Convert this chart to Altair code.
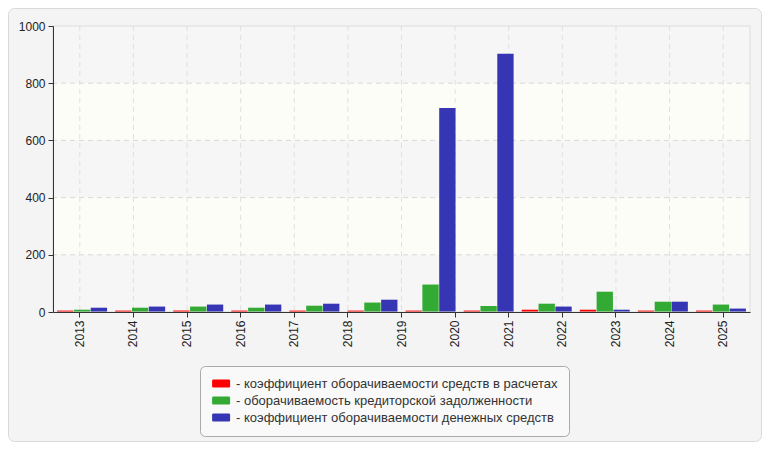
import altair as alt
import pandas as pd

# ---- data ----
years = [str(y) for y in range(2013, 2026)]          # axis tick labels
series = [
    "коэффициент оборачиваемости средств в расчетах",
    "оборачиваемость кредиторской задолженности",
    "коэффициент оборачиваемости денежных средств",
]
periods = list(range(1, 13))                           # 12 bar groups
red_vals = [5, 5, 5, 5, 5, 5, 5, 5, 8, 8, 5, 5]
green_vals = [8, 15, 19, 15, 22, 33, 96, 21, 29, 71, 36, 26]
blue_vals = [15, 19, 26, 26, 29, 43, 713, 903, 19, 8, 36, 12]
y_ticks = [0, 200, 400, 600, 800, 1000]
grid_y = [200, 400, 600, 800]
hatch_from = [0, 400, 800]
colors = ["#ff0000", "#33aa33", "#3636b4"]

W, H = 697, 286
PL, PT, PR, PB = 45, 18, 12, 130
FONT = "Liberation Sans"

rows = []
for i, p in enumerate(periods):
    for s, vals in zip(series, [red_vals, green_vals, blue_vals]):
        rows.append({"period": p, "series": s, "value": vals[i]})
bars_df = pd.DataFrame(rows)
one = pd.DataFrame({"a": [0]})

yscale = alt.Scale(domain=[0, 1000], nice=False, zero=True)
yaxis = alt.Axis(values=y_ticks, format="d", grid=False, title=None,
                 labelFont=FONT, labelFontSize=12, labelColor="#222",
                 domainColor="#333", tickColor="#333", tickSize=5,
                 labelPadding=3, zindex=1)

frame_bg = alt.Chart(one).mark_rect(
    fill="#f4f4f4", stroke="#d9d9d9", strokeWidth=1, cornerRadius=6
).encode(x=alt.value(-PL + 0.5), x2=alt.value(W + PR - 0.5),
         y=alt.value(-PT + 0.5), y2=alt.value(H + PB - 0.5))

plot_bg = alt.Chart(one).mark_rect(fill="#fdfdf7").encode(
    x=alt.value(0), x2=alt.value(W), y=alt.value(0), y2=alt.value(H))

hatch = alt.Chart(pd.DataFrame({"lo": hatch_from})).transform_calculate(
    hi="datum.lo + 200"
).mark_rect(fill="#f6f6f6").encode(
    x=alt.value(0), x2=alt.value(W),
    y=alt.Y("lo:Q", scale=yscale, axis=yaxis), y2="hi:Q")

hgrid = alt.Chart(pd.DataFrame({"g": grid_y})).mark_rule(
    stroke="#d9d9d9", strokeDash=[5, 4], strokeWidth=1
).encode(y=alt.Y("g:Q", scale=yscale, axis=yaxis))

vgrid = alt.Chart(pd.DataFrame({"year": years})).mark_rule(
    stroke="#e0e0e0", strokeDash=[5, 4], strokeWidth=1
).encode(x=alt.X("year:N", sort=years, title=None,
                 axis=alt.Axis(orient="bottom", labelAngle=-90, labelFont=FONT,
                               labelFontSize=12, labelColor="#222",
                               domainColor="#333", tickColor="#333",
                               tickSize=5, labelPadding=3, grid=False,
                               zindex=1)))

sym = ("M-0.9,-0.9H2.5A0.3,0.3 0 0 1 2.8,-0.6V0.6A0.3,0.3 0 0 1 2.5,0.9"
       "H-0.9A0.3,0.3 0 0 1 -1.2,0.6V-0.6A0.3,0.3 0 0 1 -0.9,-0.9Z")

bars = alt.Chart(bars_df).mark_bar().encode(
    x=alt.X("period:O", scale=alt.Scale(paddingInner=0.139, paddingOuter=0.07),
            axis=None),
    xOffset=alt.XOffset("series:N", sort=series,
                        scale=alt.Scale(paddingInner=0.03)),
    y=alt.Y("value:Q", scale=yscale, axis=yaxis),
    color=alt.Color("series:N", sort=series,
                    scale=alt.Scale(domain=series, range=colors),
                    legend=alt.Legend(
                        orient="none", legendX=147, legendY=340, title=None,
                        fillColor="#f9f9f9", strokeColor="#aaaaaa",
                        cornerRadius=5, padding=11, symbolType=sym,
                        symbolSize=81, symbolStrokeWidth=0, symbolOpacity=1,
                        labelOffset=12, rowPadding=3, labelFont=FONT,
                        labelFontSize=13, labelColor="#333", labelLimit=600,
                        labelExpr="'- ' + datum.label")),
)

plot_border = alt.Chart(one).mark_rect(
    fillOpacity=0, stroke="#dddddd", strokeWidth=1
).encode(x=alt.value(0), x2=alt.value(W), y=alt.value(0), y2=alt.value(H))

chart = alt.layer(
    frame_bg, plot_bg, hatch, hgrid, vgrid, bars, plot_border
).resolve_scale(x="independent").properties(
    width=W, height=H,
    autosize=alt.AutoSizeParams(type="none"),
    padding={"left": PL, "top": PT, "right": PR, "bottom": PB},
    background="white",
).configure_view(strokeWidth=0)

chart.save("out.html", embed_options={"renderer": "svg", "actions": False})
